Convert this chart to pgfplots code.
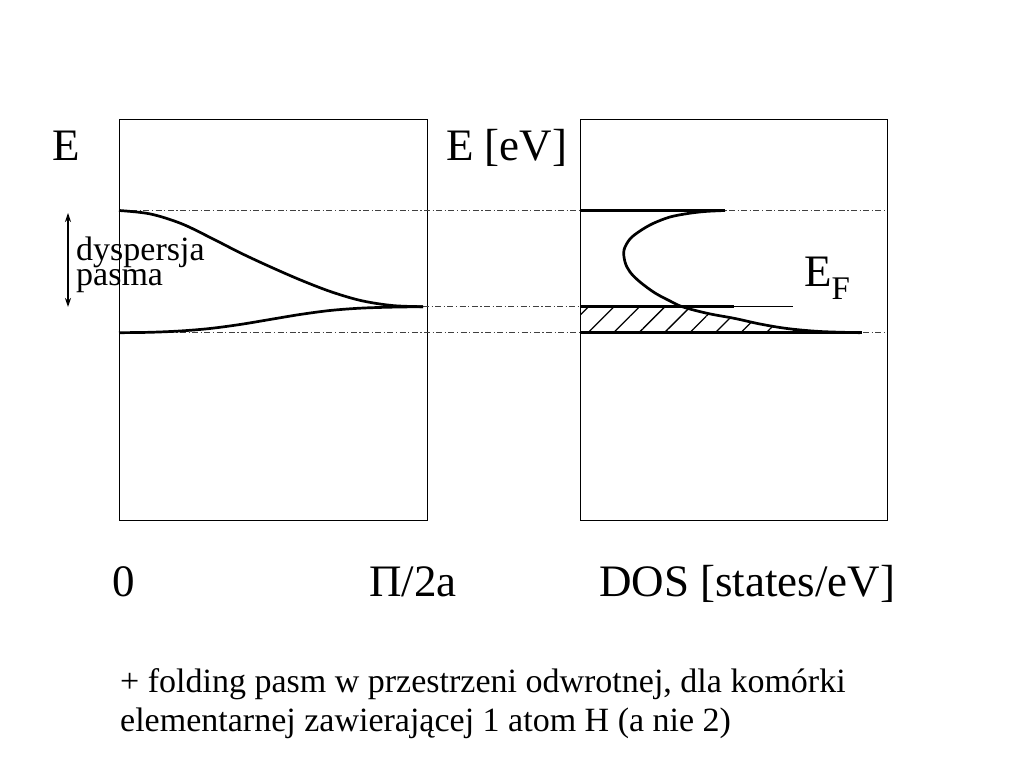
\documentclass[border=0pt]{standalone}
\usepackage{fontspec}
\setmainfont{Liberation Serif}
\usepackage{pgfplots}
\pgfplotsset{compat=1.18}
\usetikzlibrary{patterns.meta,arrows.meta}
\newcommand\bigf{\fontsize{45bp}{50bp}\selectfont}
\begin{document}
\begin{tikzpicture}
\useasboundingbox (0,0) rectangle (1024bp,768bp);
\tikzset{dd/.style={line width=0.9bp, black!75, dash pattern=on 6bp off 2.5bp on 1.2bp off 2.5bp},
         cv/.style={line width=2.7bp, black, smooth, tension=0.55}}
% ---------------- left panel: band dispersion ----------------
\begin{axis}[at={(119bp,248bp)}, anchor=south west, scale only axis,
  width=308bp, height=401bp, xmin=0, xmax=308, ymin=0, ymax=401,
  ticks=none, clip=false, axis line style={line width=0.9bp, black}]
\addplot[dd] coordinates {(0,309.5) (768,309.5)};
\addplot[dd] coordinates {(304,213.3) (461,213.3)};
\addplot[dd] coordinates {(0,187.3) (768,187.3)};
% upper band
\addplot[cv] coordinates {(0,309.5) (31,306.1) (62,296.5) (92,282.1) (122,266.8) (153,252.4) (183,239.4) (213,227.9) (243,219.2) (274,214.4) (304,213.3)};
% lower band
\addplot[cv] coordinates {(0,187.3) (31,187.7) (61,189) (91,191.5) (121,195.5) (151,200.5) (181,205.5) (211,209.5) (241,211.8) (271,212.8) (304,213.3)};
% dispersion arrow
\addplot[line width=1.2bp, {Stealth[length=9bp,width=6bp]}-{Stealth[length=9bp,width=6bp]}] coordinates {(-51,307) (-51,213)};
\end{axis}
% ---------------- right panel: DOS ----------------
\begin{axis}[at={(580bp,248bp)}, anchor=south west, scale only axis,
  width=307bp, height=401bp, xmin=0, xmax=307, ymin=0, ymax=401,
  ticks=none, clip=false, axis line style={line width=0.9bp, black}]
\addplot[draw=none, pattern={Lines[angle=45,distance=18bp,line width=1.3bp]}] coordinates {(0,187.3) (0,213.3) (103,213.3) (128,206.5) (155,201.5) (180,196) (207,191.5) (240,188.5) (280,187.3) (0,187.3)};
\addplot[line width=2.7bp] coordinates {(0,309.5) (145,309.5)};
\addplot[line width=2.7bp] coordinates {(0,213.3) (154,213.3)};
\addplot[line width=1.1bp] coordinates {(154,213.3) (213,213.3)};
\addplot[line width=2.7bp] coordinates {(0,187.3) (282,187.3)};
\addplot[cv] coordinates {(145,309.5) (125,308.5) (108,306.5) (90,303) (73,296.5) (60,289) (50,281) (44,270) (45,258) (50,248) (60,238) (75,227) (90,219) (103,213) (128,206.5) (155,201.5) (180,196) (207,191.5) (240,188.5) (280,187.3)};
\end{axis}
% ---------------- text ----------------
\node[anchor=base west, inner sep=0pt] at (52bp,607bp) {\bigf E};
\node[anchor=base west, inner sep=0pt] at (446bp,607bp) {\bigf E [eV]};
\node[anchor=base west, inner sep=0pt] at (804bp,481bp) {\bigf E\raisebox{-13bp}{\fontsize{33bp}{33bp}\selectfont F}};
\node[anchor=base west, inner sep=0pt] at (76bp,482bp) {\fontsize{34bp}{34bp}\selectfont\rlap{\raisebox{25bp}{dyspersja}}pasma};
\node[anchor=base west, inner sep=0pt] at (112bp,171bp) {\bigf 0};
\node[anchor=base west, inner sep=0pt] at (369bp,171bp) {\bigf Π/2a};
\node[anchor=base west, inner sep=0pt] at (599bp,171bp) {\bigf DOS [states/eV]};
\node[anchor=base west, inner sep=0pt] at (120bp,75bp) {\fontsize{34bp}{34bp}\selectfont + folding pasm w przestrzeni odwrotnej, dla komórki};
\node[anchor=base west, inner sep=0pt] at (120bp,37bp) {\fontsize{34bp}{34bp}\selectfont elementarnej zawierającej 1 atom H (a nie 2)};
\end{tikzpicture}
\end{document}
